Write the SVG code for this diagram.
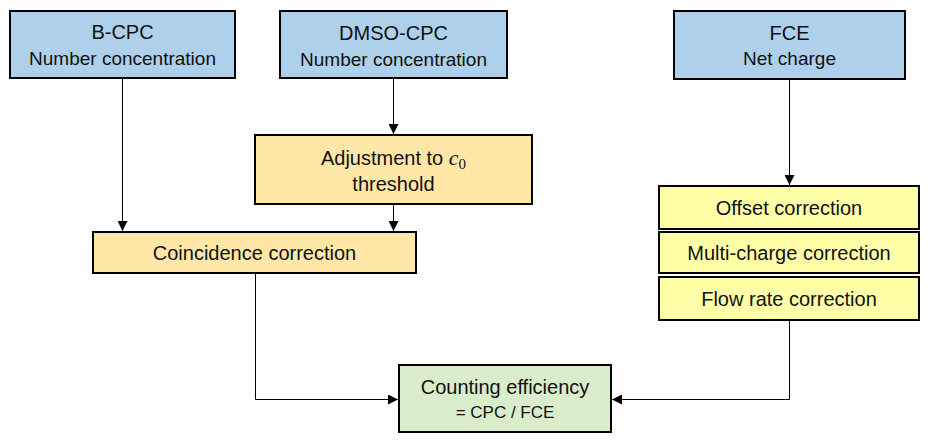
<svg xmlns="http://www.w3.org/2000/svg" width="930" height="443" viewBox="0 0 930 443">
<defs>
<marker id="arr" viewBox="0 0 10 10" refX="10" refY="5" markerWidth="10" markerHeight="10" markerUnits="userSpaceOnUse" orient="auto">
<path d="M0,0 L10,5 L0,10 z" fill="#000"/>
</marker>
<style>
.box{stroke:#000;stroke-width:2}
.blue{fill:#AED0EA}
.orange{fill:#FFE7A8}
.yellow{fill:#FFFFA8}
.green{fill:#D9EDCB}
text{font-family:"Liberation Sans",Arial,sans-serif;font-size:20px;fill:#111;text-anchor:middle}
.sm{font-size:19px}
.xs{font-size:17px}
.conn{stroke:#000;stroke-width:1;fill:none}
</style>
</defs>
<g id="b-cpc">
<rect class="box blue" x="10" y="11" width="225" height="67"/>
<text x="122.5" y="39">B-CPC</text>
<text x="122.5" y="65" class="sm">Number concentration</text>
</g>
<g id="dmso-cpc">
<rect class="box blue" x="280" y="11" width="227" height="67"/>
<text x="393.5" y="40">DMSO-CPC</text>
<text x="393.5" y="66" class="sm">Number concentration</text>
</g>
<g id="fce">
<rect class="box blue" x="674" y="11" width="231" height="68"/>
<text x="789.5" y="40">FCE</text>
<text x="789.5" y="65" class="sm">Net charge</text>
</g>
<g id="adjustment">
<rect class="box orange" x="255" y="135" width="277" height="69"/>
<text x="393.5" y="165">Adjustment to <tspan font-family="Liberation Serif" font-style="italic" font-size="22">c</tspan><tspan font-family="Liberation Serif" font-size="15" dy="4">0</tspan></text>
<text x="393.5" y="191">threshold</text>
</g>
<g id="coincidence">
<rect class="box orange" x="93" y="232" width="323" height="41"/>
<text x="254.5" y="260">Coincidence correction</text>
</g>
<g id="offset">
<rect class="box yellow" x="659" y="186" width="260" height="43"/>
<text x="789" y="215">Offset correction</text>
</g>
<g id="multi">
<rect class="box yellow" x="659" y="232" width="260" height="41"/>
<text x="789" y="260">Multi-charge correction</text>
</g>
<g id="flow">
<rect class="box yellow" x="659" y="277" width="260" height="43"/>
<text x="789" y="306">Flow rate correction</text>
</g>
<g id="efficiency">
<rect class="box green" x="399" y="365" width="212" height="67"/>
<text x="505" y="394">Counting efficiency</text>
<text x="505" y="418" class="xs">= CPC / FCE</text>
</g>
<g id="connectors">
<path class="conn" d="M122.5,78 V231" marker-end="url(#arr)"/>
<path class="conn" d="M393.5,78 V134" marker-end="url(#arr)"/>
<path class="conn" d="M393.5,204 V231" marker-end="url(#arr)"/>
<path class="conn" d="M789.5,79 V185" marker-end="url(#arr)"/>
<path class="conn" d="M255.5,273 V399.5 H398" marker-end="url(#arr)"/>
<path class="conn" d="M789.5,320 V399.5 H612" marker-end="url(#arr)"/>
</g>
</svg>
